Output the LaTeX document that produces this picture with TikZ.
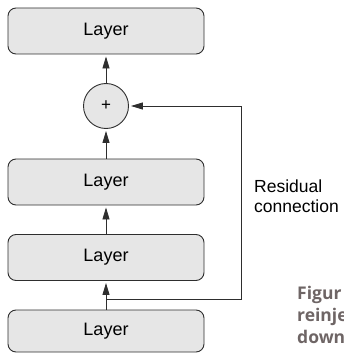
\documentclass[tikz,border=0pt]{standalone}
\usepackage{fontspec}
\setmainfont{Liberation Sans}
\newfontfamily\capfont{Open Sans}
\usetikzlibrary{arrows.meta}
\definecolor{boxfill}{HTML}{E6E6E6}
\definecolor{linecol}{HTML}{2E2E2E}
\definecolor{capcol}{HTML}{6E6565}
\tikzset{
  layerbox/.style={draw=linecol, fill=boxfill, line width=0.9pt, rounded corners=8pt,
    minimum width=196pt, minimum height=46pt, inner sep=0pt, font=\fontsize{18}{20}\selectfont},
  addnode/.style={draw=linecol, fill=boxfill, line width=0.9pt, circle, minimum size=45pt,
    inner sep=0pt, font=\fontsize{17}{18}\selectfont},
  arr/.style={draw=linecol, line width=0.9pt, shorten >=2pt, -{Triangle[length=12pt,width=7pt]}},
  lbl/.style={align=left, inner sep=0pt, font=\fontsize{17.5}{20}\selectfont},
  captext/.style={align=left, inner sep=0pt, text=capcol, font=\capfont\bfseries\fontsize{17.5}{22}\selectfont}
}
\begin{document}
\begin{tikzpicture}[x=1pt,y=-1pt]
\useasboundingbox (0,0) rectangle (343,353);
\clip (0,0) rectangle (343,353);
\node[layerbox] (l4) at (106,31) {Layer};
\node[addnode] (plus) at (106,106) {+};
\node[layerbox] (l3) at (106,182) {Layer};
\node[layerbox] (l2) at (106,257.5) {Layer};
\node[layerbox, minimum height=42pt] (l1) at (106,331) {Layer};
\coordinate (j) at (106,299);
\coordinate (c) at (241,299);
\draw[arr] (plus) -- (l4);
\draw[arr] (l3) -- (plus);
\draw[arr] (l2) -- (l3);
\draw[arr] (l1) -- (l2);
\draw[arr] (j) -- (c) |- (plus.east);
\node[lbl, anchor=north west] (res) at (254,180) {Residual\\connection};
\node[captext, anchor=north west] (capt) at (297,286) {Figur\\reinje\\down};
\end{tikzpicture}
\end{document}
